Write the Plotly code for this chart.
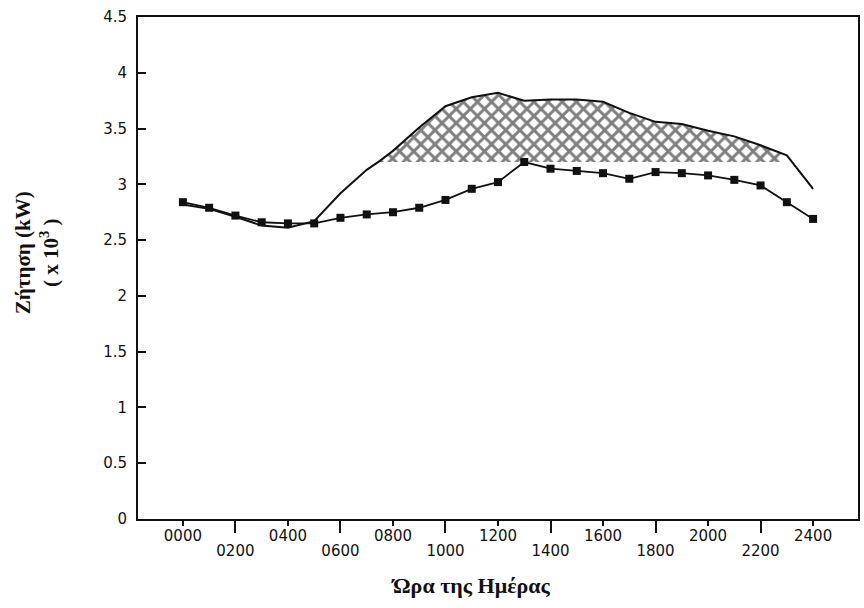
import numpy as np
import plotly.graph_objects as go

# ---- data ----
hours_lower = list(range(0, 25))
demand_lower = [2.84, 2.79, 2.72, 2.66, 2.65, 2.65, 2.70, 2.73, 2.75, 2.79, 2.86, 2.96,
                3.02, 3.20, 3.14, 3.12, 3.10, 3.05, 3.11, 3.10, 3.08, 3.04, 2.99, 2.84, 2.69]

hours_upper = [0, 1, 2, 3, 4, 5, 6, 7, 7.5, 8, 9, 10, 11, 12, 13, 14, 15, 16, 17, 18,
               19, 20, 21, 22, 23, 24]
demand_upper = [2.82, 2.78, 2.71, 2.63, 2.61, 2.67, 2.92, 3.13, 3.21, 3.30, 3.51, 3.70,
                3.78, 3.82, 3.75, 3.76, 3.76, 3.74, 3.64, 3.56, 3.54, 3.48, 3.43, 3.35,
                3.26, 2.96]

hatch_base = 3.2
hatch_start = 7.45
hatch_end = 22.8

x_ticks_upper = [0, 4, 8, 12, 16, 20, 24]
x_labels_upper = ["0000", "0400", "0800", "1200", "1600", "2000", "2400"]
x_ticks_lower = [2, 6, 10, 14, 18, 22]
x_labels_lower = ["0200", "0600", "1000", "1400", "1800", "2200"]

y_ticks = [0, 0.5, 1, 1.5, 2, 2.5, 3, 3.5, 4, 4.5]
y_labels = ["0", "0.5", "1", "1.5", "2", "2.5", "3", "3.5", "4", "4.5"]

y_title = "Ζήτηση (kW)<br>( x 10<sup>3</sup> )"
x_title = "Ώρα της Ημέρας"

# ---- hatch polygon derived from the upper curve ----
hu = np.array(hours_upper, dtype=float)
du = np.array(demand_upper, dtype=float)
inside = (hu > hatch_start) & (hu < hatch_end)
top_x = [hatch_start] + list(hu[inside]) + [hatch_end]
top_y = [float(np.interp(hatch_start, hu, du))] + list(du[inside]) + [float(np.interp(hatch_end, hu, du))]
poly_x = top_x + [hatch_end, hatch_start, hatch_start]
poly_y = top_y + [hatch_base, hatch_base, top_y[0]]

INK = "#111111"
fig = go.Figure()

fig.add_trace(go.Scatter(
    x=poly_x, y=poly_y, mode="lines", fill="toself",
    fillcolor="white", line=dict(width=0),
    fillpattern=dict(shape="x", fgcolor="black", bgcolor="white", size=10, solidity=0.5),
    hoverinfo="skip", showlegend=False))

fig.add_trace(go.Scatter(
    x=hours_upper, y=demand_upper, mode="lines",
    line=dict(color=INK, width=2), showlegend=False))

fig.add_trace(go.Scatter(
    x=hours_lower, y=demand_lower, mode="lines+markers",
    line=dict(color=INK, width=1.8),
    marker=dict(symbol="square", size=8, color=INK),
    showlegend=False))

# invisible trace for second x axis
fig.add_trace(go.Scatter(x=[x_ticks_lower[0]], y=[0], xaxis="x2", mode="markers",
                         marker=dict(opacity=0), hoverinfo="skip", showlegend=False))

xr = [-1.71, 25.71]
tick_font = dict(family="DejaVu Sans", size=15, color=INK)

fig.update_layout(
    width=864, height=608,
    margin=dict(l=138, r=4, t=17, b=89),
    paper_bgcolor="white", plot_bgcolor="white",
    xaxis=dict(range=xr, tickmode="array", tickvals=x_ticks_upper, ticktext=x_labels_upper,
               ticks="outside", ticklen=5, tickwidth=1.5, tickcolor=INK,
               showline=True, linewidth=2, linecolor=INK, mirror=True,
               showgrid=False, zeroline=False, tickfont=tick_font,
               ticklabelstandoff=-3),
    xaxis2=dict(range=xr, overlaying="x", anchor="y", side="bottom",
                tickmode="array", tickvals=x_ticks_lower, ticktext=x_labels_lower,
                ticks="outside", ticklen=13, tickwidth=1.5, tickcolor=INK,
                showline=False, showgrid=False, zeroline=False,
                tickfont=tick_font, ticklabelstandoff=5),
    yaxis=dict(range=[0, 4.5], tickmode="array", tickvals=y_ticks, ticktext=y_labels,
               ticks="inside", ticklen=8, tickwidth=2, tickcolor=INK,
               showline=True, linewidth=2, linecolor=INK, mirror=True,
               showgrid=False, zeroline=False, tickfont=tick_font,
               ticklabelstandoff=6),
    annotations=[
        dict(text="<b>" + y_title + "</b>", xref="paper", yref="paper", x=-0.14, y=0.53,
             xanchor="center", yanchor="middle", textangle=-90, showarrow=False,
             font=dict(family="Liberation Serif", size=21, color=INK)),
        dict(text="<b>" + x_title + "</b>", xref="paper", yref="paper", x=0.4626, y=-0.1315,
             xanchor="center", yanchor="middle", showarrow=False,
             font=dict(family="Liberation Serif", size=22, color=INK)),
    ],
)

fig.write_html("out.html")
